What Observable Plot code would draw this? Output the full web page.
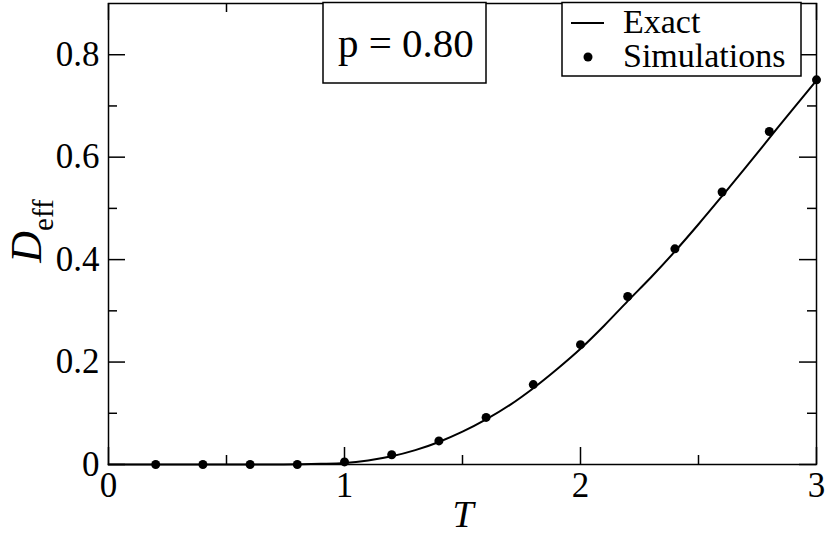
<!DOCTYPE html>
<html>
<head>
<meta charset="utf-8">
<script src="https://cdn.jsdelivr.net/npm/d3@7"></script>
<script src="https://cdn.jsdelivr.net/npm/@observablehq/plot@0.6"></script>
<style>
  html, body { margin: 0; padding: 0; background: #fff; }
  #wrap { position: relative; width: 827px; height: 536px; font-family: 'Liberation Serif', 'Times New Roman', 'DejaVu Serif', serif; }
  #wrap svg, #wrap text { font-family: 'Liberation Serif', 'Times New Roman', 'DejaVu Serif', serif !important; }
  #overlay { position: absolute; left: 0; top: 0; pointer-events: none; }
</style>
</head>
<body>
<div id="wrap"></div>
<script>
// Simulation points
const simT = [0.2, 0.4, 0.6, 0.8, 1.0, 1.2, 1.4, 1.6, 1.8, 2.0, 2.2, 2.4, 2.6, 2.8, 3.0];
const simD = [0, 0, 0, 0, 0.005, 0.019, 0.046, 0.092, 0.156, 0.234, 0.328, 0.421, 0.532, 0.650, 0.751];

// Exact curve
const exactT = [0, 0.5, 0.6, 0.7, 0.8, 0.9, 1.0, 1.1, 1.2, 1.3, 1.4, 1.5, 1.6, 1.7, 1.8, 1.9, 2.0, 2.1, 2.2, 2.3, 2.4, 2.5, 2.6, 2.7, 2.8, 2.9, 3.0];
const exactD = [0, 0, 0, 0.0001, 0.0004, 0.0013, 0.003, 0.008, 0.016, 0.028, 0.044, 0.064, 0.088, 0.116, 0.149, 0.186, 0.226, 0.271, 0.319, 0.366, 0.416, 0.469, 0.524, 0.580, 0.637, 0.694, 0.750];

// Ticks
const xMajor = [0, 1, 2, 3];
const xMinor = [0.5, 1.5, 2.5];
const yMajor = [0, 0.2, 0.4, 0.6, 0.8];
const yMinor = [0.1, 0.3, 0.5, 0.7];
const xTickLabels = ["0", "1", "2", "3"];
const yTickLabels = ["0", "0.2", "0.4", "0.6", "0.8"];

// Legend / annotation text
const legendLabels = ["Exact", "Simulations"];
const annotation = "p = 0.80";

const FONT = "'Liberation Serif', 'Times New Roman', 'DejaVu Serif', serif";
const W = 827, H = 536;
const mL = 108, mR = 11, mT = 3, mB = 72;
const innerW = W - mL - mR, innerH = H - mT - mB;
const major = 17, minor = 9;

const sims = simT.map((t, i) => ({T: t, D: simD[i]}));
const exact = exactT.map((t, i) => ({T: t, D: exactD[i]}));

const chart = Plot.plot({
  width: W,
  height: H,
  marginLeft: mL,
  marginRight: mR,
  marginTop: mT,
  marginBottom: mB,
  style: {fontFamily: FONT, fontSize: "34px", color: "#000", background: "#fff", overflow: "visible"},
  x: {domain: [0, 3], label: null},
  y: {domain: [0, 0.9], label: null},
  marks: [
    // tick marks, inward
    Plot.tickX(xMajor, {x: d => d, insetTop: innerH - major, stroke: "#000", strokeWidth: 1.5}),
    Plot.tickX(xMajor, {x: d => d, insetBottom: innerH - major, stroke: "#000", strokeWidth: 1.5}),
    Plot.tickX(xMinor, {x: d => d, insetTop: innerH - minor, stroke: "#000", strokeWidth: 1.5}),
    Plot.tickX(xMinor, {x: d => d, insetBottom: innerH - minor, stroke: "#000", strokeWidth: 1.5}),
    Plot.tickY(yMajor, {y: d => d, insetRight: innerW - major, stroke: "#000", strokeWidth: 1.5}),
    Plot.tickY(yMajor, {y: d => d, insetLeft: innerW - major, stroke: "#000", strokeWidth: 1.5}),
    Plot.tickY(yMinor, {y: d => d, insetRight: innerW - minor, stroke: "#000", strokeWidth: 1.5}),
    Plot.tickY(yMinor, {y: d => d, insetLeft: innerW - minor, stroke: "#000", strokeWidth: 1.5}),
    // tick labels
    Plot.axisX({ticks: xMajor, tickSize: 0, tickPadding: 8, tickFormat: d => xTickLabels[xMajor.indexOf(d)], label: null, fontSize: 35}),
    Plot.axisY({ticks: yMajor, tickSize: 0, tickPadding: 9, tickFormat: d => yTickLabels[yMajor.indexOf(d)], label: null, fontSize: 35}),
    // data
    Plot.line(exact, {x: "T", y: "D", stroke: "#000", strokeWidth: 2, curve: "monotone-x"}),
    Plot.dot(sims, {x: "T", y: "D", r: 4.5, fill: "#000", stroke: "none"}),
    Plot.frame({stroke: "#000", strokeWidth: 1.5})
  ]
});

const wrap = document.getElementById("wrap");
wrap.appendChild(chart);

// Overlay: axis labels, annotation box, legend
const svg = d3.select(wrap).append("svg")
  .attr("id", "overlay").attr("width", W).attr("height", H)
  .attr("font-family", FONT);

// y label
const yl = svg.append("text")
  .attr("transform", "translate(41,231) rotate(-90)")
  .attr("text-anchor", "middle").attr("fill", "#000");
yl.append("tspan").attr("font-style", "italic").attr("font-size", 44).text("D");
yl.append("tspan").attr("font-size", 29).attr("dy", 12).text("eff");

// x label
svg.append("text").attr("x", 463).attr("y", 527).attr("text-anchor", "middle")
  .attr("font-style", "italic").attr("font-size", 38).attr("fill", "#000").text("T");

// annotation box
svg.append("rect").attr("x", 323).attr("y", 2.5).attr("width", 163).attr("height", 80.5)
  .attr("fill", "#fff").attr("stroke", "#000").attr("stroke-width", 1.5);
svg.append("text").attr("x", 338).attr("y", 57).attr("font-size", 41).attr("fill", "#000").text(annotation);

// legend
svg.append("rect").attr("x", 562).attr("y", 2.5).attr("width", 239).attr("height", 73.5)
  .attr("fill", "#fff").attr("stroke", "#000").attr("stroke-width", 1.5);
svg.append("line").attr("x1", 571).attr("x2", 604).attr("y1", 23).attr("y2", 23)
  .attr("stroke", "#000").attr("stroke-width", 2);
svg.append("text").attr("x", 623).attr("y", 33).attr("font-size", 34).attr("fill", "#000").text(legendLabels[0]);
svg.append("circle").attr("cx", 588).attr("cy", 57).attr("r", 4.5).attr("fill", "#000");
svg.append("text").attr("x", 623).attr("y", 67).attr("font-size", 34).attr("fill", "#000").text(legendLabels[1]);
</script>
</body>
</html>
